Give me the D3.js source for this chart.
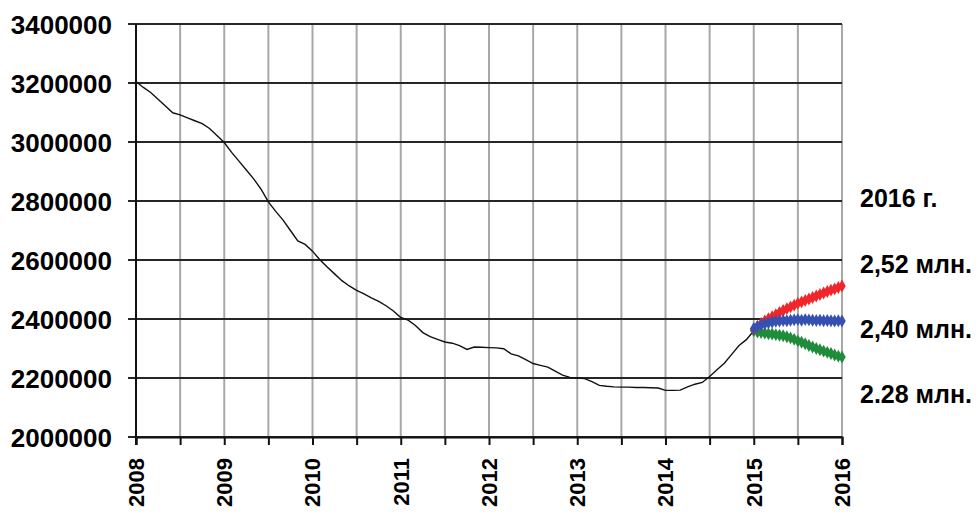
<!DOCTYPE html>
<html>
<head>
<meta charset="utf-8">
<script src="https://cdn.jsdelivr.net/npm/d3@7"></script>
<style>
  body { margin: 0; background: #fff; }
  svg text { font-family: "Liberation Sans", Arial, sans-serif; font-weight: bold; fill: #000; }
</style>
</head>
<body>
<div id="chart"></div>
<script>
// monthly values, Jan 2008 .. Jan 2015
const histStart = 2008;
const histValues = [
  3205000, 3185000, 3168000, 3145000, 3122000, 3099000, 3092000, 3082000, 3072000, 3062000, 3046000, 3022000,
  2998000, 2965000, 2935000, 2905000, 2875000, 2840000, 2797000, 2765000, 2735000, 2700000, 2665000, 2653000,
  2630000, 2601000, 2576000, 2553000, 2530000, 2512000, 2497000, 2485000, 2472000, 2460000, 2445000, 2427000,
  2405000, 2396000, 2378000, 2354000, 2340000, 2331000, 2322000, 2318000, 2310000, 2297000, 2305000, 2304000,
  2303000, 2302000, 2299000, 2282000, 2275000, 2262000, 2249000, 2243000, 2237000, 2223000, 2210000, 2202000,
  2200000, 2198000, 2188000, 2175000, 2172000, 2170000, 2169000, 2169000, 2168000, 2168000, 2167000, 2166000,
  2158000, 2158000, 2159000, 2170000, 2179000, 2185000, 2205000, 2228000, 2250000, 2280000, 2310000, 2330000,
  2360000
];

// forecast scenarios, twice a month, Jan 2015 .. Jan 2016
const fcStart = 2015;
const redValues = [
  2365000, 2375000, 2385000, 2393000, 2401000, 2408000, 2415000, 2422000, 2429000, 2435000, 2441000, 2447000,
  2453000, 2458000, 2463000, 2468000, 2473000, 2478000, 2483000, 2488000, 2493000, 2498000, 2502000, 2507000, 2512000
];
const blueValues = [
  2368000, 2375000, 2380000, 2384000, 2387000, 2390000, 2392000, 2393000, 2395000, 2394000, 2396000, 2397000,
  2398000, 2396000, 2398000, 2397000, 2396000, 2395000, 2396000, 2394000, 2395000, 2394000, 2393000, 2394000, 2393000
];
const greenValues = [
  2360000, 2356000, 2354000, 2352000, 2350000, 2349000, 2347000, 2345000, 2343000, 2340000, 2336000, 2331000,
  2326000, 2321000, 2316000, 2310000, 2305000, 2300000, 2296000, 2291000, 2287000, 2283000, 2278000, 2274000, 2271000
];

const yTicks = [2000000, 2200000, 2400000, 2600000, 2800000, 3000000, 3200000, 3400000];
const xTicks = d3.range(2008, 2016.01, 0.5);
const sideLabels = ["2016 г.", "2,52 млн.", "2,40 млн.", "2.28 млн."];
const sideLabelY = [207, 273, 338, 403];

const margin = { top: 24, right: 136, bottom: 79, left: 136 };
const W = 978, H = 516;
const width = W - margin.left - margin.right;
const height = H - margin.top - margin.bottom;

const svg = d3.select("#chart").append("svg")
    .attr("width", W)
    .attr("height", H);
const g = svg.append("g")
    .attr("transform", `translate(${margin.left},${margin.top})`);

const x = d3.scaleLinear().domain([2008, 2016]).range([0, width]);
const y = d3.scaleLinear().domain([2000000, 3400000]).range([height, 0]);

// vertical grid (gray, every half year)
g.append("g").selectAll("line")
    .data(xTicks.slice(1))
    .join("line")
    .attr("x1", d => x(d)).attr("x2", d => x(d))
    .attr("y1", 0).attr("y2", height)
    .attr("stroke", "#a8a8a8").attr("stroke-width", 2);

// horizontal grid (dark) with left ticks
g.append("g").selectAll("line")
    .data(yTicks)
    .join("line")
    .attr("x1", -8).attr("x2", width)
    .attr("y1", d => y(d)).attr("y2", d => y(d))
    .attr("stroke", "#262626").attr("stroke-width", 2);

// y axis labels
const yAxis = d3.axisLeft(y).tickValues(yTicks).tickSize(0).tickPadding(24).tickFormat(d3.format("d"));
g.append("g").call(yAxis)
    .call(a => a.select(".domain").remove())
    .selectAll("text")
    .style("font-size", "26px")
    .attr("dy", "0.36em");

// x axis with ticks
const xAxis = d3.axisBottom(x).tickValues(xTicks).tickSize(8).tickFormat("");
const xg = g.append("g").attr("transform", `translate(0,${height})`).call(xAxis);
xg.select(".domain").attr("stroke", "#111").attr("stroke-width", 2);
xg.selectAll(".tick line").attr("stroke", "#111").attr("stroke-width", 2);

// rotated year labels
g.append("g").selectAll("text")
    .data(xTicks.filter(d => Number.isInteger(d)))
    .join("text")
    .attr("transform", d => `translate(${x(d)},${height + 21}) rotate(-90)`)
    .attr("text-anchor", "end")
    .attr("dy", "0.36em")
    .style("font-size", "22px")
    .text(d => d);

// y axis line
g.append("line")
    .attr("x1", 0).attr("x2", 0).attr("y1", 0).attr("y2", height + 8)
    .attr("stroke", "#111").attr("stroke-width", 2);

// history line
const hist = histValues.map((v, i) => ({ t: histStart + i / 12, v }));
const line = d3.line().x(d => x(d.t)).y(d => y(d.v));
g.append("path")
    .datum(hist)
    .attr("fill", "none")
    .attr("stroke", "#111")
    .attr("stroke-width", 1.4)
    .attr("d", line);

// forecast scenarios
const scenarios = [
  { values: greenValues, color: "#1f8c3b" },
  { values: redValues, color: "#f0262a" },
  { values: blueValues, color: "#3550b0" }
];
const diamond = d3.symbol().type(d3.symbolDiamond).size(48);
scenarios.forEach(s => {
    const pts = s.values.map((v, i) => ({ t: fcStart + i / 24, v }));
    g.append("path")
        .datum(pts)
        .attr("fill", "none")
        .attr("stroke", s.color)
        .attr("stroke-width", 4)
        .attr("d", line);
    g.append("g").selectAll("path")
        .data(pts)
        .join("path")
        .attr("d", diamond)
        .attr("transform", d => `translate(${x(d.t)},${y(d.v)})`)
        .attr("fill", s.color);
});

// right side annotations
svg.append("g").selectAll("text")
    .data(sideLabels)
    .join("text")
    .attr("x", 860)
    .attr("y", (d, i) => sideLabelY[i])
    .style("font-size", "25px")
    .text(d => d);
</script>
</body>
</html>
